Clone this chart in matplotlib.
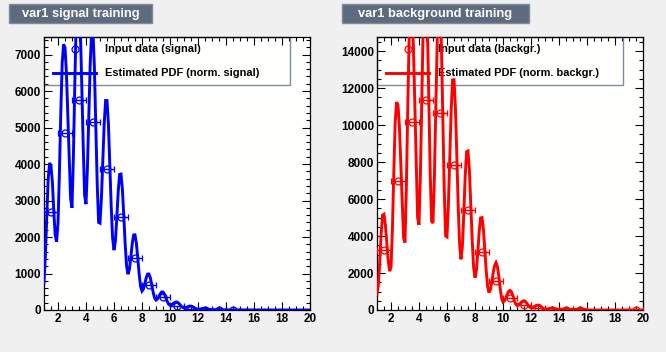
import numpy as np
import matplotlib
matplotlib.use('Agg')
import matplotlib.pyplot as plt
from matplotlib.patches import Rectangle
from matplotlib.lines import Line2D
from matplotlib.ticker import MultipleLocator

plt.rcParams['font.family'] = ['Liberation Sans', 'DejaVu Sans']
plt.rcParams['font.weight'] = 'bold'

# training histogram (bins of width 1 from 1 to 20)
bin_centres = [1.5, 2.5, 3.5, 4.5, 5.5, 6.5, 7.5, 8.5, 9.5, 10.5,
               11.5, 12.5, 13.5, 14.5, 15.5, 16.5, 17.5, 18.5, 19.5]
sig_hist = [2680, 4850, 5750, 5160, 3850, 2540, 1420, 680, 350, 110,
            40, 12, 5, 2, 0, 0, 0, 0, 0]
bkg_hist = [3240, 6970, 10150, 11350, 10630, 7840, 5390, 3120, 1550, 630,
            270, 90, 20, 10, 8, 0, 0, 0, 5]

# estimated pdf, read every 0.1 from x = 1.0 to 15.9 (zero afterwards)
sig_pdf = [750, 1500, 2600, 3600, 4030, 3950, 3500, 2700, 2050, 1870,
           2380, 3740, 5410, 6770, 7280, 7190, 6510, 5330, 4060, 3050,
           2800, 4210, 6180, 7920, 8600, 8490, 7620, 6130, 4520, 3150,
           2900, 3870, 5305, 6740, 7630, 7620, 6640, 5050, 3460, 2400,
           2380, 3060, 4085, 5100, 5740, 5740, 5110, 4020, 2850, 1970,
           1640, 1890, 2520, 3245, 3715, 3725, 3300, 2575, 1790, 1200,
           980, 1110, 1440, 1810, 2055, 2060, 1820, 1415, 975, 645,
           520, 575, 720, 880, 985, 985, 875, 685, 480, 330,
           270, 297, 365, 443, 493, 493, 437, 341, 237, 160,
           130, 141, 167, 198, 217, 217, 193, 151, 106, 73,
           60, 66, 81, 98, 108, 108, 95, 71, 46, 27,
           20, 23, 30, 39, 44, 44, 39, 29, 19, 11,
           8, 9, 11, 13, 15, 15, 13, 10, 6, 4,
           3, 3, 4, 5, 6, 6, 5, 3, 2, 1,
           1, 1, 1, 1, 1, 0, 0, 0, 0, 0]
bkg_pdf = [850, 1365, 2670, 4160, 5130, 5180, 4590, 3640, 2690, 2100,
           2300, 4325, 7430, 10160, 11240, 11085, 9930, 7930, 5780, 3900,
           3650, 6740, 11030, 14810, 16300, 16060, 14290, 11220, 7920, 5000,
           4600, 7310, 11345, 15375, 17870, 17875, 15405, 11415, 7425, 4800,
           4700, 7200, 10865, 14530, 16800, 16780, 14380, 10490, 6600, 4000,
           3950, 5690, 8265, 10840, 12440, 12450, 10965, 8390, 5610, 3530,
           2740, 3440, 5220, 7240, 8560, 8600, 7550, 5735, 3780, 2310,
           1750, 2140, 3125, 4250, 4980, 5000, 4375, 3300, 2140, 1270,
           940, 1095, 1500, 2000, 2405, 2560, 2360, 1825, 1165, 630,
           430, 490, 645, 845, 1000, 1060, 985, 780, 530, 325,
           250, 274, 336, 414, 476, 500, 464, 369, 251, 156,
           120, 134, 172, 218, 256, 270, 249, 198, 126, 71,
           50, 55, 67, 83, 95, 100, 93, 76, 54, 37,
           30, 33, 40, 50, 57, 60, 57, 48, 37, 28,
           25, 27, 32, 38, 43, 45, 43, 37, 28, 22]

pdf_x = np.round(np.arange(1.0, 20.0001, 0.1), 1)

W, H = 666, 352
fig = plt.figure(figsize=(W / 100, H / 100), dpi=100, facecolor='#f0f0f0')


def panel(left_px, title, title_w, hist, pdf, colour, ymax, ymaj, ymin, what):
    ax = fig.add_axes([left_px / W, 42 / H, 266 / W, 273 / H])
    ax.set_facecolor('#fffffd')

    y = np.concatenate([pdf, np.zeros(len(pdf_x) - len(pdf))])
    ax.plot(pdf_x, y, color=colour, lw=2.1, solid_joinstyle='miter', zorder=3)

    xs = np.array(bin_centres)
    hs = np.array(hist, dtype=float)
    keep = hs > 0
    ax.errorbar(xs[keep], hs[keep], xerr=0.5, fmt='o', mfc='none', mec=colour,
                ms=5, mew=0.9, ecolor=colour, elinewidth=1, capsize=2.5,
                capthick=1, zorder=4)

    ax.set_xlim(1, 20)
    ax.set_ylim(0, ymax)
    ax.xaxis.set_major_locator(MultipleLocator(2))
    ax.xaxis.set_minor_locator(MultipleLocator(0.5))
    ax.yaxis.set_major_locator(MultipleLocator(ymaj))
    ax.yaxis.set_minor_locator(MultipleLocator(ymin))
    ax.tick_params(which='both', direction='in', top=True, right=True,
                   width=0.8, labelsize=8.5, pad=2)
    ax.tick_params(which='major', length=5.8)
    ax.tick_params(which='minor', length=2.9)
    for lab in ax.get_xticklabels() + ax.get_yticklabels():
        lab.set_fontweight('bold')
    for s in ax.spines.values():
        s.set_linewidth(0.9)

    # legend box drawn under the curves, as in the original
    ax.add_patch(Rectangle((0, 0.824), 0.925, 0.176, transform=ax.transAxes,
                           facecolor='none', edgecolor='#7d8b9d', lw=1,
                           zorder=2, clip_on=False))
    ax.add_line(Line2D([0.118], [0.956], transform=ax.transAxes, marker='o',
                       mfc='none', mec=colour, ms=5, mew=0.9, zorder=2))
    ax.add_line(Line2D([0.035, 0.195], [0.869, 0.869], transform=ax.transAxes,
                       color=colour, lw=2.1, zorder=2))
    ax.text(0.229, 0.956, f'Input data ({what})', transform=ax.transAxes,
            fontsize=7.9, fontweight='bold', va='center', zorder=2)
    ax.text(0.229, 0.869, f'Estimated PDF (norm. {what})', transform=ax.transAxes,
            fontsize=7.9, fontweight='bold', va='center', zorder=2)

    # title box
    bx = left_px - 35
    fig.add_artist(Rectangle((bx / W, 1 - 22.7 / H), title_w / W, 18.7 / H,
                             transform=fig.transFigure, facecolor='#5d6b7d',
                             edgecolor='#7d8b9d', lw=1))
    fig.text((bx + title_w / 2) / W, 1 - 13.5 / H, title, color='white',
             fontsize=9.3, fontweight='bold', ha='center', va='center')
    return ax


panel(44, 'var1 signal training', 143, sig_hist, sig_pdf, '#0000ff',
      7480, 1000, 200, 'signal')
panel(377, 'var1 background training', 187, bkg_hist, bkg_pdf, '#ff0000',
      14760, 2000, 500, 'backgr.')

fig.savefig('out.png', dpi=100, facecolor=fig.get_facecolor())
